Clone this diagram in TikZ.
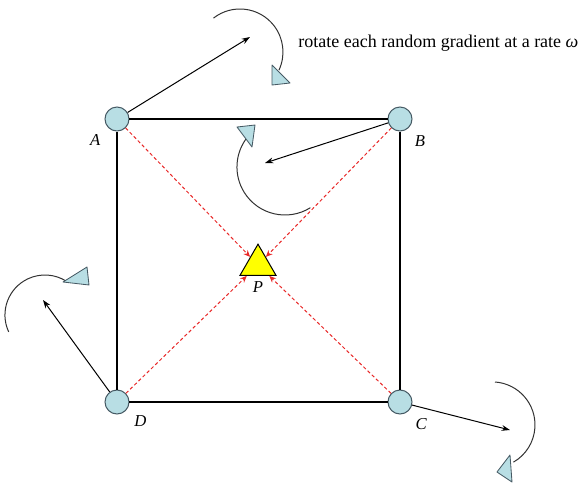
\documentclass[tikz,border=0pt]{standalone}
\usepackage{fontspec}
\setmainfont{Liberation Serif}
\usepackage{tikz}
\usetikzlibrary{shapes.geometric, arrows.meta, positioning}
\definecolor{knotblue}{RGB}{184, 222, 228}
\definecolor{knotedge}{RGB}{70, 90, 100}
\definecolor{dashred}{RGB}{232, 40, 40}
\definecolor{pointyellow}{RGB}{255, 255, 0}

\begin{document}
\begin{tikzpicture}[x=0.6pt, y=0.6pt,
    corner/.style={circle, draw=knotedge, fill=knotblue, line width=0.6pt,
                   minimum size=14.4pt, inner sep=0pt},
    lbl/.style={font=\itshape, label distance=1pt},
    grad/.style={-{Stealth[length=5pt, width=3.5pt]}, line width=0.6pt},
    toP/.style={dashred, line width=0.6pt, dash pattern=on 2pt off 1.5pt,
                -{Stealth[length=4pt, width=3.5pt]}},
    spin/.style={draw=black!80, line width=0.6pt},
    head/.style={fill=knotblue, draw=knotedge, line width=0.5pt, line join=round}
]
\useasboundingbox (0,0) rectangle (588,-484);

% lattice corners and the point P
\node[corner, label={[lbl]221:A}] (A) at (117,-119) {};
\node[corner, label={[lbl]-50:B}] (B) at (400,-119) {};
\node[corner, label={[lbl]-46:C}] (C) at (400,-402) {};
\node[corner, label={[lbl]-35:D}] (D) at (117,-402) {};
\node[regular polygon, regular polygon sides=3, minimum size=25pt, inner sep=0pt,
      draw=black, fill=pointyellow, line width=0.6pt,
      label={[lbl, label distance=0pt]below:P}] (P) at (258,-265) {};

\draw[line width=0.7pt] (A) -- (B) -- (C) -- (D) -- (A);

% dashed lines to P
\draw[toP] (A) -- (P);
\draw[toP] (B) -- (P);
\draw[toP] (C) -- (P);
\draw[toP] (D) -- (P);

% gradient vectors
\coordinate (gA) at (250,-37);
\coordinate (gB) at (265,-163);
\coordinate (gC) at (510,-430);
\coordinate (gD) at (43,-300);
\draw[grad] (A) -- (gA);
\draw[grad] (B) -- (gB);
\draw[grad] (C) -- (gC);
\draw[grad] (D) -- (gD);

% rotation arcs
\draw[spin] (213.5,-18.1) arc[start angle=128, end angle=-25, radius=43];
\filldraw[head] (272,-65) -- (272,-85) -- (290,-83) -- cycle;

\draw[spin] (310.4,-207.7) arc[start angle=-58, end angle=-219, radius=48];
\filldraw[head] (237,-127) -- (255,-125) -- (252,-147) -- cycle;

\draw[spin] (8.7,-331.9) arc[start angle=205, end angle=57, radius=40];
\filldraw[head] (63,-282) -- (87,-267) -- (89,-285) -- cycle;

\draw[spin] (495,-382) arc[start angle=86, end angle=-60, radius=43];
\filldraw[head] (497,-472) -- (510,-455) -- (512,-482) -- cycle;

\node[anchor=west, inner sep=0pt, font=\fontsize{10.8}{13}\selectfont] (note) at (298,-43)
    {rotate each random gradient at a rate \textit{ω}};
\end{tikzpicture}
\end{document}
